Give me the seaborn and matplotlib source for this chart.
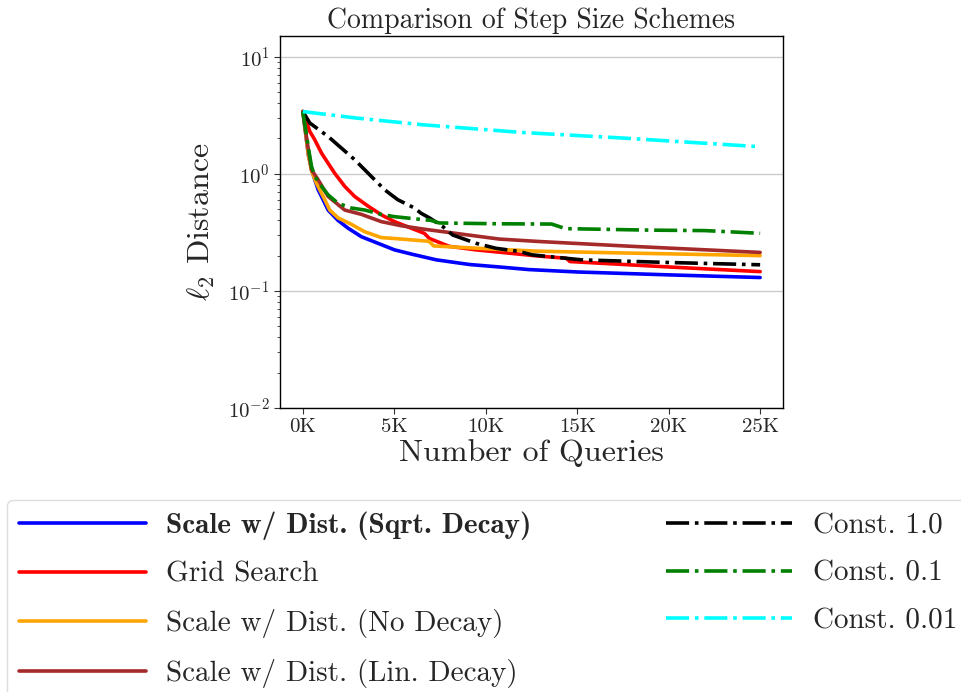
import numpy as np
import pandas as pd
import matplotlib
matplotlib.use("Agg")
import matplotlib.pyplot as plt
import seaborn as sns

# ---------------- data ----------------
sqrt_q = [0, 300, 545, 835, 1020, 1380, 1920, 2470, 3200, 4100, 5010, 6000, 7300, 9100, 10730, 12360, 15000, 20000, 25000]
sqrt_v = [3.4, 1.45, 1.0, 0.73, 0.64, 0.49, 0.40, 0.343, 0.29, 0.255, 0.224, 0.205, 0.184, 0.168, 0.16, 0.152, 0.145, 0.137, 0.13]

grid_q = [0, 380, 650, 1020, 1380, 1740, 2290, 2830, 3560, 4290, 5010, 5920, 6640, 6920, 8000, 9460, 11270, 12900, 14400, 14600, 20000, 25000]
grid_v = [3.4, 2.3, 1.95, 1.5, 1.23, 1.01, 0.78, 0.64, 0.53, 0.446, 0.39, 0.343, 0.31, 0.28, 0.24, 0.224, 0.21, 0.198, 0.19, 0.178, 0.16, 0.146]

nodecay_q = [0, 300, 470, 745, 1200, 1470, 1925, 2650, 3380, 4290, 5000, 6900, 7150, 10730, 12900, 18000, 25000]
nodecay_v = [3.4, 1.45, 1.06, 0.83, 0.60, 0.49, 0.42, 0.37, 0.32, 0.285, 0.28, 0.265, 0.242, 0.226, 0.218, 0.21, 0.20]

lin_q = [0, 300, 470, 835, 1380, 2290, 3200, 4290, 5370, 6640, 10730, 12900, 18000, 25000]
lin_v = [3.4, 1.6, 1.08, 0.89, 0.64, 0.49, 0.45, 0.39, 0.36, 0.336, 0.277, 0.264, 0.24, 0.213]

c1_q = [0, 380, 1380, 2100, 2830, 3740, 4470, 5190, 6100, 6460, 6920, 7640, 8190, 9460, 10550, 11820, 12530, 15250, 19830, 25000]
c1_v = [3.4, 2.71, 2.08, 1.66, 1.32, 0.95, 0.73, 0.60, 0.51, 0.46, 0.42, 0.355, 0.30, 0.255, 0.231, 0.217, 0.203, 0.184, 0.175, 0.167]

c01_q = [0, 290, 380, 470, 650, 1020, 1380, 1920, 2650, 3380, 4290, 5010, 6280, 7000, 7460, 10730, 13600, 14360, 19000, 22000, 25000]
c01_v = [3.4, 1.71, 1.41, 1.16, 0.95, 0.78, 0.66, 0.56, 0.51, 0.49, 0.45, 0.43, 0.41, 0.40, 0.38, 0.374, 0.372, 0.34, 0.33, 0.327, 0.31]

c001_q = [0, 1000, 2920, 6550, 12000, 17450, 25000]
c001_v = [3.4, 3.25, 2.99, 2.62, 2.25, 2.02, 1.70]

labels = ["Scale w/ Dist. (Sqrt. Decay)", "Grid Search", "Scale w/ Dist. (No Decay)",
          "Scale w/ Dist. (Lin. Decay)", "Const. 1.0", "Const. 0.1", "Const. 0.01"]
colors = ["blue", "red", "orange", "brown", "black", "green", "cyan"]
styles = ["-", "-", "-", "-", "-.", "-.", "-."]
series_q = [sqrt_q, grid_q, nodecay_q, lin_q, c1_q, c01_q, c001_q]
series_v = [sqrt_v, grid_v, nodecay_v, lin_v, c1_v, c01_v, c001_v]

xticks = [0, 5000, 10000, 15000, 20000, 25000]
xticklabels = ["0K", "5K", "10K", "15K", "20K", "25K"]

# ---------------- style ----------------
sns.set_style("ticks")
plt.rcParams["font.family"] = ["cmr10", "DejaVu Serif"]
plt.rcParams["mathtext.fontset"] = "cm"
plt.rcParams["axes.formatter.use_mathtext"] = True
plt.rcParams["axes.unicode_minus"] = True

fig = plt.figure(figsize=(9.62, 6.92), dpi=100)
W, H = 962, 692
ax = fig.add_axes([280 / W, 1 - 408 / H, (783 - 280) / W, (408 - 36) / H])

for lab, col, ls, q, v in zip(labels, colors, styles, series_q, series_v):
    df = pd.DataFrame({"q": q, "v": v})
    sns.lineplot(data=df, x="q", y="v", color=col, linestyle=ls, linewidth=2.6,
                 label=lab, ax=ax, estimator=None, sort=False)

ax.set_yscale("log")
ax.set_ylim(0.01, 15)
ax.set_xlim(-1250, 26250)
ax.set_xticks(xticks)
ax.set_xticklabels(xticklabels)
ax.grid(axis="y", which="major", color="#cccccc", linewidth=1.0)
ax.grid(axis="x", visible=False)
for s in ax.spines.values():
    s.set_color("black")
    s.set_linewidth(1.0)
ax.tick_params(axis="both", which="major", labelsize=15, length=4, color="#333333")
ax.tick_params(axis="y", which="minor", length=2.5, color="#333333")

ax.set_xlabel("Number of Queries", fontsize=23, labelpad=2)
ax.set_ylabel(r"$\ell_2$ Distance", fontsize=23, labelpad=8)
ax.set_title("Comparison of Step Size Schemes", fontsize=20, pad=6)

handles, labs = ax.get_legend_handles_labels()
ax.get_legend().remove()
leg = fig.legend(handles, labs, loc="upper left", bbox_to_anchor=(7 / W, 1 - 500 / H),
                 ncol=2, fontsize=21, handlelength=4.35, handletextpad=0.7,
                 columnspacing=4.6, labelspacing=0.73, borderaxespad=0.0,
                 frameon=True, fancybox=True, edgecolor="#dddddd", framealpha=1.0)
leg.get_texts()[0].set_fontfamily(["cmb10", "DejaVu Serif"])

fig.savefig("out.png", dpi=100)
